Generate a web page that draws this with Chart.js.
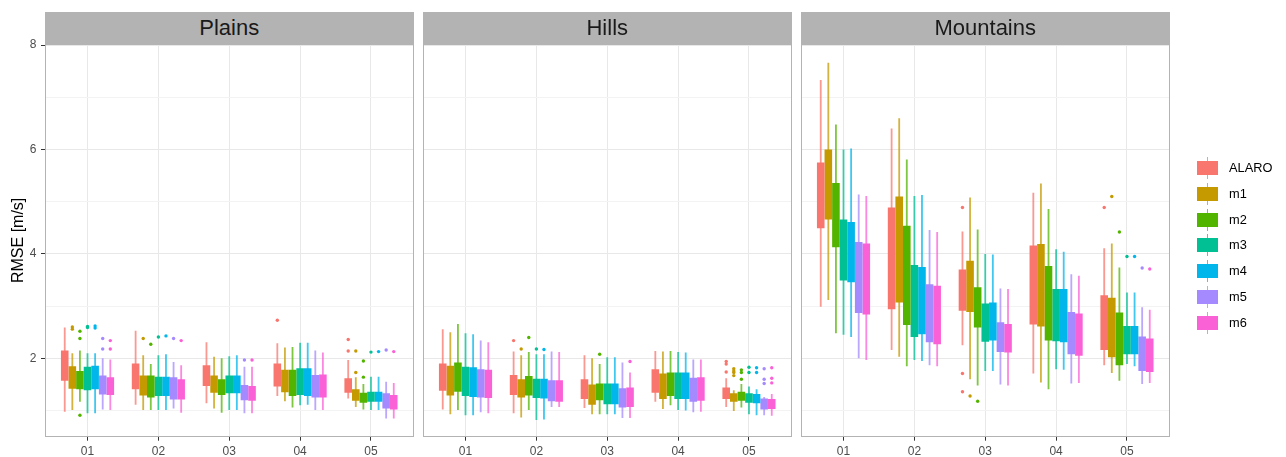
<!DOCTYPE html>
<html>
<head>
<meta charset="utf-8">
<title>RMSE by terrain</title>
<script src="https://cdn.jsdelivr.net/npm/chart.js@4.4.1/dist/chart.umd.min.js"></script>
<style>
  html, body { margin: 0; padding: 0; background: #ffffff; }
  #wrap { position: relative; width: 1286px; height: 457px; overflow: hidden;
          font-family: "Liberation Sans", Arial, sans-serif; }
  #wrap canvas { position: absolute; left: 0; top: 0; }
  .strip { position: absolute; top: 12px; height: 32px; width: 368.5px; background: #B3B3B3;
           color: #1A1A1A; font-size: 22px; line-height: 32px; text-align: center; z-index: 2; }
  .leg-key { position: absolute; left: 1197px; width: 21px; height: 22px; }
  .leg-key .wh { position: absolute; left: 9.7px; top: 0; width: 1.6px; height: 22px; opacity: 0.75; }
  .leg-key .bx { position: absolute; left: 0; top: 4px; width: 21px; height: 14px; }
  .leg-lab { position: absolute; left: 1229px; font-size: 12.8px; color: #000000; line-height: 16px; }
</style>
</head>
<body>
<div id="wrap">
  <canvas id="c0" width="1286" height="457"></canvas>
  <canvas id="c1" width="1286" height="457"></canvas>
  <canvas id="c2" width="1286" height="457"></canvas>
</div>
<script>
// ---- categories, series and axis ticks ----
const categories = ['01', '02', '03', '04', '05'];
const seriesNames = ['ALARO', 'm1', 'm2', 'm3', 'm4', 'm5', 'm6'];
const seriesColours = ['#F8766D', '#C49A00', '#53B400', '#00C094', '#00B6EB', '#A58AFF', '#FB61D7'];
const regionNames = ['Plains', 'Hills', 'Mountains'];
const yTickValues = [1, 2, 3, 4, 5, 6, 7, 8];

// ---- Plains: rows are series (ALARO, m1..m6), columns are categories 01..05 ----
const plainsWhiskerHigh = [
  [2.59, 2.53, 2.31, 2.29, 1.97],
  [2.10, 2.06, 2.03, 2.21, 1.64],
  [2.15, 1.89, 2.00, 2.22, 1.51],
  [2.10, 2.06, 2.04, 2.30, 1.65],
  [2.10, 2.08, 2.06, 2.30, 1.65],
  [2.00, 1.93, 1.84, 2.15, 1.55],
  [1.98, 1.87, 1.84, 2.11, 1.53]
];
const plainsUpperQuartile = [
  [2.15, 1.90, 1.87, 1.90, 1.62],
  [1.85, 1.67, 1.67, 1.78, 1.41],
  [1.76, 1.67, 1.60, 1.78, 1.34],
  [1.84, 1.65, 1.67, 1.81, 1.36],
  [1.86, 1.65, 1.67, 1.81, 1.36],
  [1.67, 1.64, 1.49, 1.68, 1.33],
  [1.64, 1.60, 1.47, 1.69, 1.30]
];
const plainsLowerQuartile = [
  [1.57, 1.41, 1.47, 1.46, 1.34],
  [1.42, 1.29, 1.34, 1.35, 1.19],
  [1.41, 1.25, 1.30, 1.28, 1.15],
  [1.39, 1.28, 1.33, 1.30, 1.17],
  [1.41, 1.28, 1.33, 1.28, 1.17],
  [1.31, 1.21, 1.20, 1.25, 1.04],
  [1.30, 1.21, 1.19, 1.25, 1.02]
];
const plainsWhiskerLow = [
  [0.98, 1.11, 1.14, 1.28, 1.23],
  [1.01, 1.01, 1.04, 1.18, 1.07],
  [1.17, 1.01, 0.96, 1.06, 1.02],
  [0.95, 1.01, 1.01, 1.10, 1.01],
  [0.95, 1.01, 1.01, 1.11, 1.01],
  [1.02, 1.04, 0.95, 1.01, 0.85],
  [1.01, 0.96, 0.95, 1.01, 0.85]
];
// outliers per series as [category number, value]
const plainsOutliers = [
  [[4, 2.73], [5, 2.36], [5, 2.14]],
  [[1, 2.60], [1, 2.56], [2, 2.38], [5, 2.14], [5, 1.73]],
  [[1, 2.52], [1, 2.38], [1, 0.91], [2, 2.27], [5, 1.95], [5, 1.64]],
  [[1, 2.61], [1, 2.59], [2, 2.41], [5, 2.12]],
  [[1, 2.62], [1, 2.58], [2, 2.43], [5, 2.13]],
  [[1, 2.38], [1, 2.18], [2, 2.38], [3, 1.97], [5, 2.16]],
  [[1, 2.34], [1, 2.18], [2, 2.34], [3, 1.97], [5, 2.13]]
];

// ---- Hills ----
const hillsWhiskerHigh = [
  [2.56, 2.13, 2.06, 2.14, 1.62],
  [2.50, 2.06, 2.00, 2.13, 1.39],
  [2.66, 2.12, 1.89, 2.14, 1.51],
  [2.48, 2.08, 2.02, 2.12, 1.46],
  [2.46, 2.08, 2.02, 2.11, 1.41],
  [2.34, 2.13, 1.92, 1.98, 1.26],
  [2.31, 2.12, 1.73, 1.98, 1.32]
];
const hillsUpperQuartile = [
  [1.90, 1.68, 1.60, 1.79, 1.44],
  [1.86, 1.60, 1.50, 1.71, 1.33],
  [1.92, 1.66, 1.52, 1.73, 1.36],
  [1.84, 1.61, 1.52, 1.73, 1.33],
  [1.83, 1.61, 1.52, 1.73, 1.32],
  [1.79, 1.58, 1.43, 1.63, 1.23],
  [1.78, 1.58, 1.44, 1.64, 1.22]
];
const hillsLowerQuartile = [
  [1.38, 1.30, 1.22, 1.34, 1.22],
  [1.29, 1.25, 1.11, 1.22, 1.17],
  [1.36, 1.29, 1.20, 1.28, 1.19],
  [1.28, 1.24, 1.12, 1.22, 1.15],
  [1.26, 1.23, 1.12, 1.22, 1.14],
  [1.25, 1.18, 1.06, 1.17, 1.02],
  [1.24, 1.17, 1.07, 1.19, 1.03]
];
const hillsWhiskerLow = [
  [1.02, 0.95, 1.05, 1.17, 1.07],
  [0.93, 0.87, 0.93, 1.03, 0.99],
  [1.01, 1.01, 0.93, 1.10, 1.06],
  [0.91, 0.82, 0.93, 1.01, 0.93],
  [0.91, 0.83, 0.93, 1.00, 0.91],
  [0.97, 1.07, 0.86, 0.97, 0.91],
  [0.95, 1.07, 0.86, 0.98, 0.90]
];
const hillsOutliers = [
  [[2, 2.34], [5, 1.94], [5, 1.89], [5, 1.74]],
  [[2, 2.18], [5, 1.80], [5, 1.76], [5, 1.73], [5, 1.67]],
  [[2, 2.40], [3, 2.08], [5, 1.78], [5, 1.73], [5, 1.60]],
  [[2, 2.18], [5, 1.83], [5, 1.73]],
  [[2, 2.17], [5, 1.82], [5, 1.73]],
  [[5, 1.80], [5, 1.60], [5, 1.52]],
  [[3, 1.94], [5, 1.82], [5, 1.62], [5, 1.53]]
];

// ---- Mountains ----
const mountainsWhiskerHigh = [
  [7.33, 6.40, 4.43, 5.17, 4.11],
  [7.66, 6.60, 5.08, 5.35, 4.20],
  [6.48, 5.81, 4.47, 4.86, 3.74],
  [6.00, 5.11, 4.00, 4.09, 3.26],
  [6.02, 5.13, 3.99, 4.04, 3.26],
  [5.14, 4.46, 3.34, 3.61, 2.98],
  [5.11, 4.42, 3.33, 3.58, 2.93]
];
const mountainsUpperQuartile = [
  [5.75, 4.89, 3.70, 4.16, 3.21],
  [6.00, 5.10, 3.87, 4.19, 3.16],
  [5.36, 4.54, 3.36, 3.77, 2.88],
  [4.66, 3.79, 3.05, 3.33, 2.62],
  [4.61, 3.75, 3.07, 3.33, 2.62],
  [4.23, 3.42, 2.69, 2.89, 2.42],
  [4.20, 3.39, 2.66, 2.86, 2.38]
];
const mountainsLowerQuartile = [
  [4.49, 2.94, 2.91, 2.65, 2.16],
  [4.66, 3.07, 2.89, 2.61, 2.02],
  [4.13, 2.64, 2.59, 2.34, 1.87],
  [3.49, 2.41, 2.32, 2.33, 2.08],
  [3.46, 2.46, 2.34, 2.31, 2.08],
  [2.87, 2.31, 2.12, 2.08, 1.76],
  [2.84, 2.27, 2.11, 2.05, 1.74]
];
const mountainsWhiskerLow = [
  [2.99, 2.16, 2.25, 1.71, 1.87],
  [3.12, 2.03, 1.60, 1.54, 1.72],
  [2.48, 1.85, 1.48, 1.41, 1.57],
  [2.45, 1.97, 1.76, 1.79, 1.89],
  [2.41, 1.95, 1.76, 1.78, 1.85],
  [2.00, 1.87, 1.50, 1.52, 1.51],
  [1.97, 1.85, 1.48, 1.53, 1.53]
];
const mountainsOutliers = [
  [[3, 4.89], [3, 1.71], [3, 1.36], [5, 4.89]],
  [[3, 1.28], [5, 5.10]],
  [[3, 1.18], [5, 4.42]],
  [[5, 3.95]],
  [[5, 3.95]],
  [[5, 3.73]],
  [[5, 3.71]]
];

// ---- drawing ----
const FONT = '"Liberation Sans", Arial, sans-serif';
Chart.defaults.font.family = FONT;

const GROUP_WIDTH = 0.75;                       // share of a category taken by the dodged boxes
const DODGE = GROUP_WIDTH / seriesNames.length; // width of one box in category units

function withAlpha(hex, a) {
  const n = parseInt(hex.slice(1), 16);
  return 'rgba(' + ((n >> 16) & 255) + ',' + ((n >> 8) & 255) + ',' + (n & 255) + ',' + a + ')';
}

// Outline round each facet panel
const panelBorder = {
  id: 'panelBorder',
  afterDraw(chart) {
    const { ctx, chartArea: a } = chart;
    ctx.save();
    ctx.strokeStyle = '#B3B3B3';
    ctx.lineWidth = 1;
    ctx.strokeRect(Math.round(a.left) + 0.5, Math.round(a.top) + 0.5,
                   Math.round(a.width) - 1, Math.round(a.height) - 1);
    ctx.restore();
  }
};

function categoryTicks(scale) {
  scale.ticks = categories.map((c, k) => ({ value: k + 1 }));
}

function buildPanel(canvasId, region, showYAxis, padLeft, padRight) {
  const [whiskerLow, lowerQ, upperQ, whiskerHigh, outliers] = region;
  const datasets = [];

  // boxes: inter-quartile range as floating bars; each series gets its own dodge slot ("stack")
  seriesNames.forEach((name, s) => {
    datasets.push({
      type: 'bar', label: name, stack: 'slot' + s, order: 1,
      data: categories.map((c, k) => ({ x: k + 1, y: [lowerQ[s][k], upperQ[s][k]] })),
      backgroundColor: seriesColours[s], borderWidth: 0, borderSkipped: false,
      categoryPercentage: GROUP_WIDTH, barPercentage: 1
    });
  });
  // whiskers: thin floating bars sharing the slot of their box
  seriesNames.forEach((name, s) => {
    datasets.push({
      type: 'bar', label: name + ' range', stack: 'slot' + s, order: 2,
      data: categories.map((c, k) => ({ x: k + 1, y: [whiskerLow[s][k], whiskerHigh[s][k]] })),
      backgroundColor: withAlpha(seriesColours[s], 0.75), borderWidth: 0, borderSkipped: false,
      categoryPercentage: GROUP_WIDTH, barPercentage: 0.24
    });
  });
  // outlying points
  seriesNames.forEach((name, s) => {
    datasets.push({
      type: 'scatter', label: name + ' outliers', order: 0,
      data: outliers[s].map(([cat, v]) => ({ x: cat + (s - 3) * DODGE, y: v })),
      pointRadius: 1.7, pointBorderWidth: 0,
      pointBackgroundColor: seriesColours[s], showLine: false
    });
  });

  return new Chart(document.getElementById(canvasId), {
    type: 'bar',
    data: { datasets },
    plugins: [panelBorder],
    options: {
      responsive: false, animation: false, devicePixelRatio: 1, events: [],
      layout: { padding: { left: padLeft, right: padRight, top: 44, bottom: 0 } },
      plugins: { legend: { display: false }, tooltip: { enabled: false } },
      scales: {
        x: {
          type: 'linear', position: 'bottom', min: 0.4, max: 5.6, offset: false,
          afterBuildTicks: categoryTicks,
          afterFit: (sc) => { sc.height = 20.3; },
          ticks: {
            callback: (v, i) => categories[i], autoSkip: false, maxRotation: 0,
            font: { size: 12 }, color: '#4D4D4D', padding: 3.5
          },
          grid: { color: '#E8E8E8', lineWidth: 1, offset: false, drawTicks: true,
                  tickLength: 4, tickColor: '#333333' },
          border: { display: false }
        },
        y: {
          type: 'linear', position: 'left', min: 0.5, max: 8.02, stacked: false,
          afterBuildTicks: (sc) => { sc.ticks = yTickValues.map(v => ({ value: v })); },
          afterFit: (sc) => { sc.width = showYAxis ? 45 : 0; },
          ticks: {
            display: showYAxis,
            callback: (v) => (v % 2 === 0 ? String(v) : ''),
            font: { size: 12 }, color: '#4D4D4D', padding: 4.5
          },
          grid: {
            color: (ctx) => (ctx.tick && ctx.tick.value % 2 === 0 ? '#E8E8E8' : '#F3F3F3'),
            lineWidth: 1, drawTicks: showYAxis, tickLength: 4,
            tickColor: (ctx) => (ctx.tick && ctx.tick.value % 2 === 0 ? '#333333' : 'rgba(0,0,0,0)')
          },
          border: { display: false },
          title: {
            display: showYAxis, text: 'RMSE [m/s]', color: '#000000',
            font: { size: 16 }, padding: { top: 9, bottom: 0 }
          }
        }
      }
    }
  });
}

const W = 1286;
const panelLeft = [45, 423, 801];
const panelWidth = 368.5;

buildPanel('c0', [plainsWhiskerLow, plainsLowerQuartile, plainsUpperQuartile, plainsWhiskerHigh, plainsOutliers],
           true, 0, W - (panelLeft[0] + panelWidth));
buildPanel('c1', [hillsWhiskerLow, hillsLowerQuartile, hillsUpperQuartile, hillsWhiskerHigh, hillsOutliers],
           false, panelLeft[1], W - (panelLeft[1] + panelWidth));
buildPanel('c2', [mountainsWhiskerLow, mountainsLowerQuartile, mountainsUpperQuartile, mountainsWhiskerHigh, mountainsOutliers],
           false, panelLeft[2], W - (panelLeft[2] + panelWidth));

// facet strips
const wrap = document.getElementById('wrap');
regionNames.forEach((name, i) => {
  const d = document.createElement('div');
  d.className = 'strip';
  d.style.left = panelLeft[i] + 'px';
  d.textContent = name;
  wrap.appendChild(d);
});

// legend
const legendTop = 168;
const legendStep = 25.75;
seriesNames.forEach((name, s) => {
  const cy = legendTop + s * legendStep;
  const key = document.createElement('div');
  key.className = 'leg-key';
  key.style.top = (cy - 11) + 'px';
  const wh = document.createElement('div');
  wh.className = 'wh';
  wh.style.background = seriesColours[s];
  const bx = document.createElement('div');
  bx.className = 'bx';
  bx.style.background = seriesColours[s];
  key.appendChild(wh);
  key.appendChild(bx);
  wrap.appendChild(key);
  const lab = document.createElement('div');
  lab.className = 'leg-lab';
  lab.style.top = (cy - 8) + 'px';
  lab.textContent = name;
  wrap.appendChild(lab);
});
</script>
</body>
</html>
